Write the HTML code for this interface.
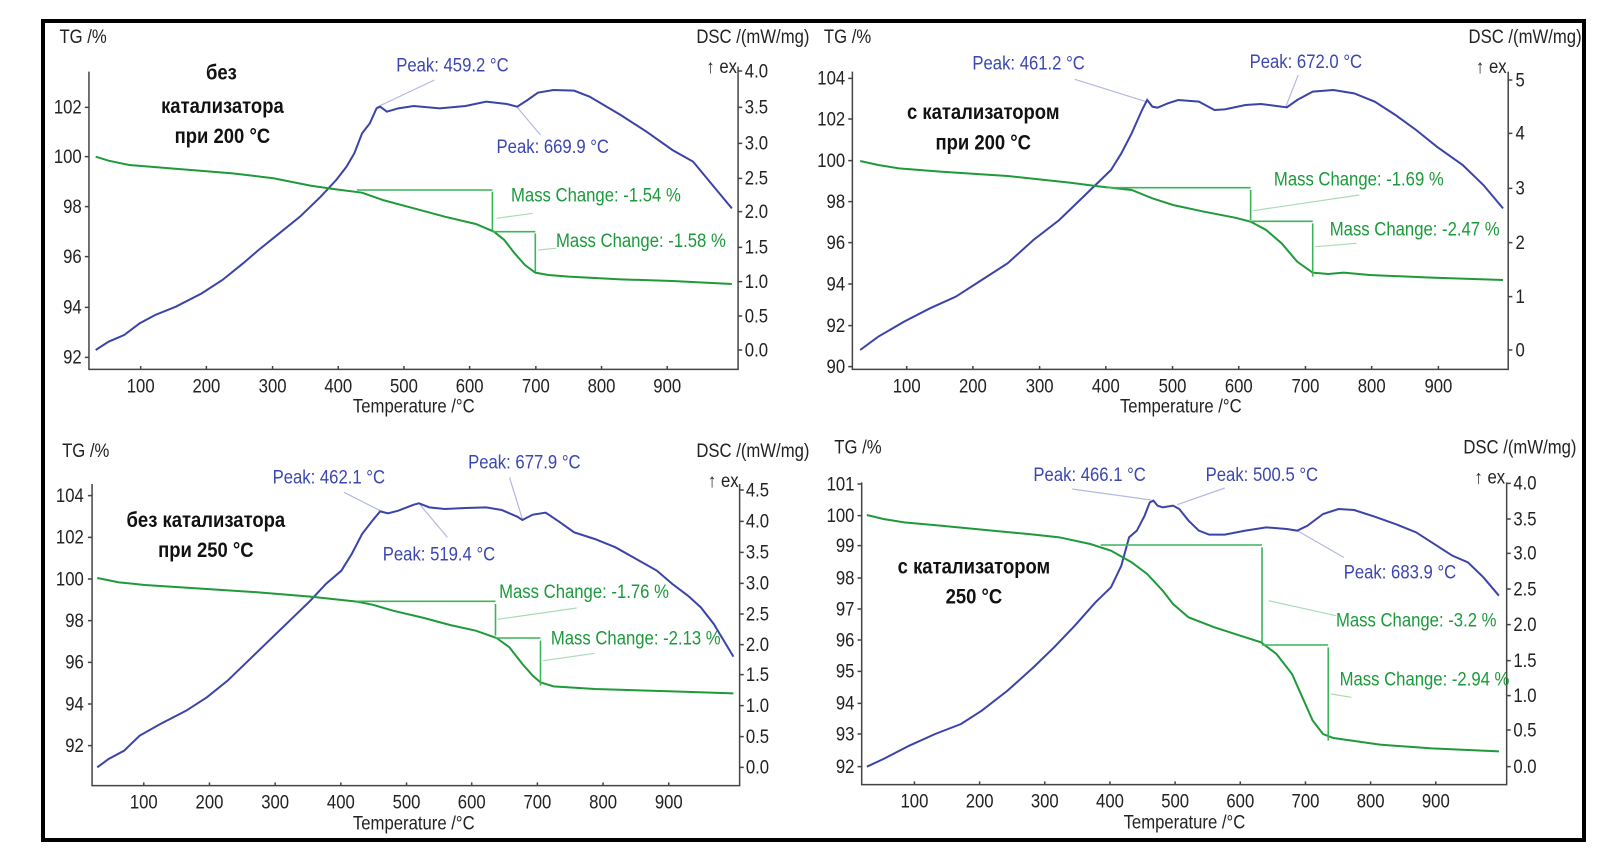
<!DOCTYPE html>
<html><head><meta charset="utf-8"><style>
html,body{margin:0;padding:0;background:#fff;}
body{width:1622px;height:868px;position:relative;overflow:hidden;}
svg.q{position:absolute;width:811px;height:434px;overflow:visible;}
text{font-family:"Liberation Sans",sans-serif;font-size:19px;dominant-baseline:central;fill:#222;}
.pk{fill:#3b46b0;}
.mc{fill:#1a9a3a;}
.ru{font-weight:bold;font-size:21px;fill:#111;text-anchor:middle;}
.e{text-anchor:end;}
.m{text-anchor:middle;}
.ax{fill:none;stroke:#444;stroke-width:1.5;}
.b{fill:none;stroke:#3a44a8;stroke-width:2;}
.g{fill:none;stroke:#1f9a3a;stroke-width:2;}
.gl{fill:none;stroke:#3cb45a;stroke-width:1.6;}
.ld{fill:none;stroke:#b4b8e2;stroke-width:1.2;}
.lg{fill:none;stroke:#a8dcb4;stroke-width:1.2;}
path,line{vector-effect:non-scaling-stroke;}
</style></head><body>
<svg style="position:absolute;left:0;top:0" width="1622" height="868"><rect x="43" y="21" width="1541" height="819" fill="none" stroke="#000" stroke-width="4"/></svg>

<!-- Panel 1 -->
<svg class="q" style="left:0;top:0" viewBox="0 0 1568 1302" preserveAspectRatio="none">
<path class="ax" d="M172,215V1108H1427V200"/>
<path class="ax" d="M164,322H172M164,470H172M164,620H172M164,770H172M164,922H172M164,1072H172M1427,213H1435M1427,322H1435M1427,430H1435M1427,535H1435M1427,635H1435M1427,742H1435M1427,845H1435M1427,948H1435M1427,1050H1435M272,1108V1098M399,1108V1098M527,1108V1098M654,1108V1098M781,1108V1098M908,1108V1098M1036,1108V1098M1163,1108V1098M1290,1108V1098"/>
<path class="ld" d="M840,240L728,322M1000,322L1045,405"/>
<path class="b" d="M185,1050L210,1025 240,1005 270,970 300,945 340,920 390,880 430,840 470,790 500,750 540,700 580,650 620,590 650,540 670,500 685,460 700,400 715,370 728,325 735,320 748,335 770,325 800,318 850,325 900,318 940,305 980,312 1000,320 1020,300 1040,278 1070,270 1110,272 1140,290 1200,345 1250,395 1300,450 1340,485 1380,560 1415,625"/>
<path class="g" d="M185,470L210,482 250,495 330,505 450,520 530,535 600,557 650,568 700,578 740,600 800,625 860,650 920,672 955,695 975,720 995,760 1015,795 1035,818 1060,825 1100,830 1200,838 1300,843 1415,852"/>
<path class="gl" d="M690,570H952M952,575V690M952,695H1035M1035,700V815"/>
<path class="lg" d="M960,655L1030,640M1040,750L1075,745"/>
<text transform="translate(115,110) scale(1.7,3)">TG /%</text>
<text class="e" transform="translate(1565,110) scale(1.7,3)">DSC /(mW/mg)</text>
<text class="e" transform="translate(1425,200) scale(1.7,3)">↑ ex</text>
<text class="e" transform="translate(158,322) scale(1.7,3)">102</text>
<text class="e" transform="translate(158,470) scale(1.7,3)">100</text>
<text class="e" transform="translate(158,620) scale(1.7,3)">98</text>
<text class="e" transform="translate(158,770) scale(1.7,3)">96</text>
<text class="e" transform="translate(158,922) scale(1.7,3)">94</text>
<text class="e" transform="translate(158,1072) scale(1.7,3)">92</text>
<text transform="translate(1440,213) scale(1.7,3)">4.0</text>
<text transform="translate(1440,322) scale(1.7,3)">3.5</text>
<text transform="translate(1440,430) scale(1.7,3)">3.0</text>
<text transform="translate(1440,535) scale(1.7,3)">2.5</text>
<text transform="translate(1440,635) scale(1.7,3)">2.0</text>
<text transform="translate(1440,742) scale(1.7,3)">1.5</text>
<text transform="translate(1440,845) scale(1.7,3)">1.0</text>
<text transform="translate(1440,948) scale(1.7,3)">0.5</text>
<text transform="translate(1440,1050) scale(1.7,3)">0.0</text>
<text class="m" transform="translate(272,1158) scale(1.7,3)">100</text>
<text class="m" transform="translate(399,1158) scale(1.7,3)">200</text>
<text class="m" transform="translate(527,1158) scale(1.7,3)">300</text>
<text class="m" transform="translate(654,1158) scale(1.7,3)">400</text>
<text class="m" transform="translate(781,1158) scale(1.7,3)">500</text>
<text class="m" transform="translate(908,1158) scale(1.7,3)">600</text>
<text class="m" transform="translate(1036,1158) scale(1.7,3)">700</text>
<text class="m" transform="translate(1163,1158) scale(1.7,3)">800</text>
<text class="m" transform="translate(1290,1158) scale(1.7,3)">900</text>
<text class="m" transform="translate(800,1218) scale(1.7,3)">Temperature /°C</text>
<text class="pk" transform="translate(766,195) scale(1.7,3)">Peak: 459.2 °C</text>
<text class="pk" transform="translate(960,440) scale(1.7,3)">Peak: 669.9 °C</text>
<text class="mc" transform="translate(988,585) scale(1.7,3)">Mass Change: -1.54 %</text>
<text class="mc" transform="translate(1075,722) scale(1.7,3)">Mass Change: -1.58 %</text>
<text class="ru" transform="translate(428,220) scale(1.7,3)">без</text>
<text class="ru" transform="translate(430,320) scale(1.7,3)">катализатора</text>
<text class="ru" transform="translate(430,410) scale(1.7,3)">при 200 °C</text>
</svg>

<!-- Panel 2 -->
<svg class="q" style="left:811px;top:0" viewBox="0 0 1568 1302" preserveAspectRatio="none">
<path class="ax" d="M80,215V1108H1348V215"/>
<path class="ax" d="M72,235H80M72,357H80M72,482H80M72,605H80M72,728H80M72,852H80M72,977H80M72,1100H80M1348,240H1356M1348,400H1356M1348,565H1356M1348,728H1356M1348,890H1356M1348,1050H1356M185,1108V1098M313,1108V1098M442,1108V1098M570,1108V1098M699,1108V1098M827,1108V1098M956,1108V1098M1084,1108V1098M1213,1108V1098"/>
<path class="ld" d="M510,238L648,305M942,225L918,320"/>
<path class="b" d="M95,1050L130,1010 180,965 230,925 280,890 330,840 380,790 430,720 480,660 520,600 560,540 580,510 600,460 620,400 640,330 650,300 660,320 670,323 690,310 710,300 750,305 780,330 800,328 840,315 870,312 900,318 920,322 940,300 970,275 1010,270 1050,280 1090,305 1130,345 1170,390 1210,440 1260,495 1300,555 1338,625"/>
<path class="g" d="M95,483L130,495 170,505 250,515 380,528 500,548 560,560 620,570 660,595 700,615 760,635 820,653 850,665 880,690 910,730 940,785 970,818 1000,822 1030,818 1080,825 1200,833 1338,840"/>
<path class="gl" d="M570,563H850M850,570V660M850,664H970M970,670V830"/>
<path class="lg" d="M855,632L1060,585M975,740L1055,730"/>
<text transform="translate(25,110) scale(1.7,3)">TG /%</text>
<text class="e" transform="translate(1490,110) scale(1.7,3)">DSC /(mW/mg)</text>
<text class="e" transform="translate(1345,200) scale(1.7,3)">↑ ex</text>
<text class="e" transform="translate(66,235) scale(1.7,3)">104</text>
<text class="e" transform="translate(66,357) scale(1.7,3)">102</text>
<text class="e" transform="translate(66,482) scale(1.7,3)">100</text>
<text class="e" transform="translate(66,605) scale(1.7,3)">98</text>
<text class="e" transform="translate(66,728) scale(1.7,3)">96</text>
<text class="e" transform="translate(66,852) scale(1.7,3)">94</text>
<text class="e" transform="translate(66,977) scale(1.7,3)">92</text>
<text class="e" transform="translate(66,1100) scale(1.7,3)">90</text>
<text transform="translate(1362,240) scale(1.7,3)">5</text>
<text transform="translate(1362,400) scale(1.7,3)">4</text>
<text transform="translate(1362,565) scale(1.7,3)">3</text>
<text transform="translate(1362,728) scale(1.7,3)">2</text>
<text transform="translate(1362,890) scale(1.7,3)">1</text>
<text transform="translate(1362,1050) scale(1.7,3)">0</text>
<text class="m" transform="translate(185,1158) scale(1.7,3)">100</text>
<text class="m" transform="translate(313,1158) scale(1.7,3)">200</text>
<text class="m" transform="translate(442,1158) scale(1.7,3)">300</text>
<text class="m" transform="translate(570,1158) scale(1.7,3)">400</text>
<text class="m" transform="translate(699,1158) scale(1.7,3)">500</text>
<text class="m" transform="translate(827,1158) scale(1.7,3)">600</text>
<text class="m" transform="translate(956,1158) scale(1.7,3)">700</text>
<text class="m" transform="translate(1084,1158) scale(1.7,3)">800</text>
<text class="m" transform="translate(1213,1158) scale(1.7,3)">900</text>
<text class="m" transform="translate(715,1218) scale(1.7,3)">Temperature /°C</text>
<text class="pk" transform="translate(312,190) scale(1.7,3)">Peak: 461.2 °C</text>
<text class="pk" transform="translate(848,185) scale(1.7,3)">Peak: 672.0 °C</text>
<text class="mc" transform="translate(895,538) scale(1.7,3)">Mass Change: -1.69 %</text>
<text class="mc" transform="translate(1003,688) scale(1.7,3)">Mass Change: -2.47 %</text>
<text class="ru" transform="translate(333,338) scale(1.7,3)">с катализатором</text>
<text class="ru" transform="translate(333,430) scale(1.7,3)">при 200 °C</text>
</svg>

<!-- Panel 3 -->
<svg class="q" style="left:0;top:434px" viewBox="0 0 1568 1302" preserveAspectRatio="none">
<path class="ax" d="M178,150V1055H1430V150"/>
<path class="ax" d="M170,185H178M170,310H178M170,435H178M170,560H178M170,685H178M170,810H178M170,935H178M1430,168H1438M1430,262H1438M1430,355H1438M1430,448H1438M1430,540H1438M1430,632H1438M1430,722H1438M1430,815H1438M1430,908H1438M1430,1000H1438M278,1055V1045M405,1055V1045M532,1055V1045M659,1055V1045M786,1055V1045M912,1055V1045M1039,1055V1045M1166,1055V1045M1293,1055V1045"/>
<path class="ld" d="M665,175L735,230M812,212L865,310M985,130L1010,255"/>
<path class="b" d="M188,1000L210,975 240,950 270,905 310,870 360,830 400,790 440,740 480,680 520,620 560,560 600,500 630,450 660,410 680,360 700,300 720,260 735,232 750,238 770,230 800,212 810,208 830,220 860,225 900,222 940,220 970,228 1000,248 1010,258 1030,242 1055,236 1080,262 1110,295 1150,315 1190,340 1230,375 1270,410 1300,450 1330,485 1355,520 1380,570 1418,668"/>
<path class="g" d="M188,432L230,445 280,453 400,465 500,475 600,488 690,503 720,512 760,530 820,552 870,573 920,590 960,612 985,640 1010,690 1030,725 1045,745 1070,757 1150,765 1300,772 1418,778"/>
<path class="gl" d="M690,502H958M958,510V605M958,612H1045M1045,620V755"/>
<path class="lg" d="M962,556L1115,522M1050,680L1150,658"/>
<text transform="translate(120,50) scale(1.7,3)">TG /%</text>
<text class="e" transform="translate(1565,50) scale(1.7,3)">DSC /(mW/mg)</text>
<text class="e" transform="translate(1428,140) scale(1.7,3)">↑ ex</text>
<text class="e" transform="translate(162,185) scale(1.7,3)">104</text>
<text class="e" transform="translate(162,310) scale(1.7,3)">102</text>
<text class="e" transform="translate(162,435) scale(1.7,3)">100</text>
<text class="e" transform="translate(162,560) scale(1.7,3)">98</text>
<text class="e" transform="translate(162,685) scale(1.7,3)">96</text>
<text class="e" transform="translate(162,810) scale(1.7,3)">94</text>
<text class="e" transform="translate(162,935) scale(1.7,3)">92</text>
<text transform="translate(1442,168) scale(1.7,3)">4.5</text>
<text transform="translate(1442,262) scale(1.7,3)">4.0</text>
<text transform="translate(1442,355) scale(1.7,3)">3.5</text>
<text transform="translate(1442,448) scale(1.7,3)">3.0</text>
<text transform="translate(1442,540) scale(1.7,3)">2.5</text>
<text transform="translate(1442,632) scale(1.7,3)">2.0</text>
<text transform="translate(1442,722) scale(1.7,3)">1.5</text>
<text transform="translate(1442,815) scale(1.7,3)">1.0</text>
<text transform="translate(1442,908) scale(1.7,3)">0.5</text>
<text transform="translate(1442,1000) scale(1.7,3)">0.0</text>
<text class="m" transform="translate(278,1105) scale(1.7,3)">100</text>
<text class="m" transform="translate(405,1105) scale(1.7,3)">200</text>
<text class="m" transform="translate(532,1105) scale(1.7,3)">300</text>
<text class="m" transform="translate(659,1105) scale(1.7,3)">400</text>
<text class="m" transform="translate(786,1105) scale(1.7,3)">500</text>
<text class="m" transform="translate(912,1105) scale(1.7,3)">600</text>
<text class="m" transform="translate(1039,1105) scale(1.7,3)">700</text>
<text class="m" transform="translate(1166,1105) scale(1.7,3)">800</text>
<text class="m" transform="translate(1293,1105) scale(1.7,3)">900</text>
<text class="m" transform="translate(800,1168) scale(1.7,3)">Temperature /°C</text>
<text class="pk" transform="translate(527,130) scale(1.7,3)">Peak: 462.1 °C</text>
<text class="pk" transform="translate(740,360) scale(1.7,3)">Peak: 519.4 °C</text>
<text class="pk" transform="translate(905,85) scale(1.7,3)">Peak: 677.9 °C</text>
<text class="mc" transform="translate(965,473) scale(1.7,3)">Mass Change: -1.76 %</text>
<text class="mc" transform="translate(1065,612) scale(1.7,3)">Mass Change: -2.13 %</text>
<text class="ru" transform="translate(398,260) scale(1.7,3)">без катализатора</text>
<text class="ru" transform="translate(398,350) scale(1.7,3)">при 250 °C</text>
</svg>

<!-- Panel 4 -->
<svg class="q" style="left:811px;top:434px" viewBox="0 0 1568 1302" preserveAspectRatio="none">
<path class="ax" d="M98,145V1052H1345V145"/>
<path class="ax" d="M90,150H98M90,245H98M90,335H98M90,432H98M90,525H98M90,618H98M90,712H98M90,808H98M90,900H98M90,998H98M1345,148H1353M1345,255H1353M1345,358H1353M1345,465H1353M1345,572H1353M1345,680H1353M1345,785H1353M1345,888H1353M1345,998H1353M200,1052V1042M326,1052V1042M452,1052V1042M578,1052V1042M704,1052V1042M830,1052V1042M956,1052V1042M1082,1052V1042M1208,1052V1042"/>
<path class="ld" d="M505,165L658,198M800,162L708,212M940,290L1030,370"/>
<path class="b" d="M108,998L140,975 190,935 240,900 290,870 330,830 380,770 430,700 470,640 510,575 550,505 580,460 600,395 615,310 630,290 645,245 655,205 662,200 670,215 680,220 700,215 712,225 730,260 750,290 770,302 800,302 840,290 880,280 920,285 940,290 960,275 990,240 1020,225 1050,228 1090,248 1130,270 1170,295 1210,335 1240,365 1270,385 1300,430 1330,485"/>
<path class="g" d="M108,243L140,255 180,265 250,275 350,290 420,300 480,310 540,330 580,350 620,385 650,420 680,470 700,510 730,550 780,580 830,605 870,625 900,660 930,720 950,790 970,860 990,900 1010,912 1100,932 1200,943 1330,952"/>
<path class="gl" d="M560,333H872M872,340V625M872,633H1000M1000,640V920"/>
<path class="lg" d="M885,500L1015,545M1005,780L1045,790"/>
<text transform="translate(45,40) scale(1.7,3)">TG /%</text>
<text class="e" transform="translate(1480,40) scale(1.7,3)">DSC /(mW/mg)</text>
<text class="e" transform="translate(1342,130) scale(1.7,3)">↑ ex</text>
<text class="e" transform="translate(84,150) scale(1.7,3)">101</text>
<text class="e" transform="translate(84,245) scale(1.7,3)">100</text>
<text class="e" transform="translate(84,335) scale(1.7,3)">99</text>
<text class="e" transform="translate(84,432) scale(1.7,3)">98</text>
<text class="e" transform="translate(84,525) scale(1.7,3)">97</text>
<text class="e" transform="translate(84,618) scale(1.7,3)">96</text>
<text class="e" transform="translate(84,712) scale(1.7,3)">95</text>
<text class="e" transform="translate(84,808) scale(1.7,3)">94</text>
<text class="e" transform="translate(84,900) scale(1.7,3)">93</text>
<text class="e" transform="translate(84,998) scale(1.7,3)">92</text>
<text transform="translate(1358,148) scale(1.7,3)">4.0</text>
<text transform="translate(1358,255) scale(1.7,3)">3.5</text>
<text transform="translate(1358,358) scale(1.7,3)">3.0</text>
<text transform="translate(1358,465) scale(1.7,3)">2.5</text>
<text transform="translate(1358,572) scale(1.7,3)">2.0</text>
<text transform="translate(1358,680) scale(1.7,3)">1.5</text>
<text transform="translate(1358,785) scale(1.7,3)">1.0</text>
<text transform="translate(1358,888) scale(1.7,3)">0.5</text>
<text transform="translate(1358,998) scale(1.7,3)">0.0</text>
<text class="m" transform="translate(200,1102) scale(1.7,3)">100</text>
<text class="m" transform="translate(326,1102) scale(1.7,3)">200</text>
<text class="m" transform="translate(452,1102) scale(1.7,3)">300</text>
<text class="m" transform="translate(578,1102) scale(1.7,3)">400</text>
<text class="m" transform="translate(704,1102) scale(1.7,3)">500</text>
<text class="m" transform="translate(830,1102) scale(1.7,3)">600</text>
<text class="m" transform="translate(956,1102) scale(1.7,3)">700</text>
<text class="m" transform="translate(1082,1102) scale(1.7,3)">800</text>
<text class="m" transform="translate(1208,1102) scale(1.7,3)">900</text>
<text class="m" transform="translate(722,1165) scale(1.7,3)">Temperature /°C</text>
<text class="pk" transform="translate(430,122) scale(1.7,3)">Peak: 466.1 °C</text>
<text class="pk" transform="translate(763,122) scale(1.7,3)">Peak: 500.5 °C</text>
<text class="pk" transform="translate(1030,415) scale(1.7,3)">Peak: 683.9 °C</text>
<text class="mc" transform="translate(1015,558) scale(1.7,3)">Mass Change: -3.2 %</text>
<text class="mc" transform="translate(1022,735) scale(1.7,3)">Mass Change: -2.94 %</text>
<text class="ru" transform="translate(315,400) scale(1.7,3)">с катализатором</text>
<text class="ru" transform="translate(315,490) scale(1.7,3)">250 °C</text>
</svg>
</body></html>
